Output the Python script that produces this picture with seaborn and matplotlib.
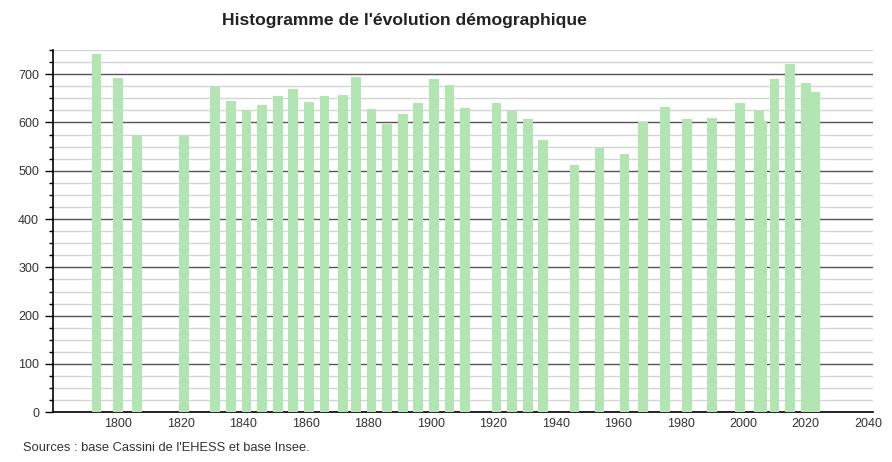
import matplotlib
matplotlib.use("Agg")
import matplotlib.pyplot as plt
import seaborn as sns
import pandas as pd
from matplotlib.ticker import MultipleLocator
from matplotlib import font_manager

years = [1793, 1800, 1806, 1821, 1831, 1836, 1841, 1846, 1851, 1856,
         1861, 1866, 1872, 1876, 1881, 1886, 1891, 1896, 1901, 1906,
         1911, 1921, 1926, 1931, 1936, 1946, 1954, 1962, 1968, 1975,
         1982, 1990, 1999, 2005, 2006, 2010, 2015, 2020, 2023]
population = [741, 692, 575, 571, 674, 645, 625, 636, 654, 669,
              643, 654, 656, 695, 628, 596, 618, 641, 690, 677,
              630, 641, 624, 607, 563, 511, 548, 535, 600, 631,
              607, 610, 641, 623, 604, 690, 721, 682, 664]
x_ticks = [1800, 1820, 1840, 1860, 1880, 1900, 1920, 1940, 1960, 1980, 2000, 2020, 2040]
y_ticks = [0, 100, 200, 300, 400, 500, 600, 700]

title = "Histogramme de l'évolution démographique"
source = "Sources : base Cassini de l'EHESS et base Insee."

sns.set_theme(style="white")
plt.rcParams['font.family'] = ['Liberation Sans', 'DejaVu Sans']

installed = {f.name for f in font_manager.fontManager.ttflist}
if "Liberation Sans Narrow" in installed:
    title_family = ["Liberation Sans Narrow", "Liberation Sans"]
    title_size = 15
else:
    title_family = ["Liberation Sans", "DejaVu Sans"]
    title_size = 12.6

df = pd.DataFrame({"annee": years, "pop": population})

fig = plt.figure(figsize=(8.92, 4.62), dpi=100)
ax = fig.add_axes([53/892, 49.7/462, 820/892, 362.3/462])

sns.barplot(data=df, x="annee", y="pop", native_scale=True, width=3.1,
            color="#b3e5b3", saturation=1, edgecolor="none", linewidth=0,
            ax=ax, zorder=3)

ax.set_xlim(1779.1, 2041.5)
ax.set_ylim(0, 750)
ax.set_xticks(x_ticks)
ax.set_xticklabels([str(t) for t in x_ticks])
ax.set_yticks(y_ticks)
ax.yaxis.set_minor_locator(MultipleLocator(25))

ax.grid(which="minor", axis="y", color="#d4d4d4", linewidth=1.0, zorder=0)
ax.grid(which="major", axis="y", color="#555555", linewidth=1.0, zorder=1)
ax.grid(which="major", axis="x", visible=False)
ax.set_axisbelow(True)

for s in ["top", "right"]:
    ax.spines[s].set_visible(False)
for s in ["left", "bottom"]:
    ax.spines[s].set_color("black")
    ax.spines[s].set_linewidth(1.2)

ax.tick_params(axis="y", which="major", left=True, length=6, width=1, color="black",
               labelsize=9, labelcolor="#333333", pad=4)
ax.tick_params(axis="y", which="minor", left=True, length=3, width=1, color="black")
ax.tick_params(axis="x", which="both", bottom=False, length=0, labelsize=9,
               labelcolor="#333333", pad=4)

ax.set_xlabel("")
ax.set_ylabel("")

fig.text(404/892, 1 - 20/462, title, ha="center", va="center", fontsize=title_size,
         fontweight="bold", color="#222222", family=title_family)
fig.text(23/892, 1 - 448/462, source, ha="left", va="center", fontsize=9.3,
         color="#333333")

fig.savefig("out.png", dpi=100)
